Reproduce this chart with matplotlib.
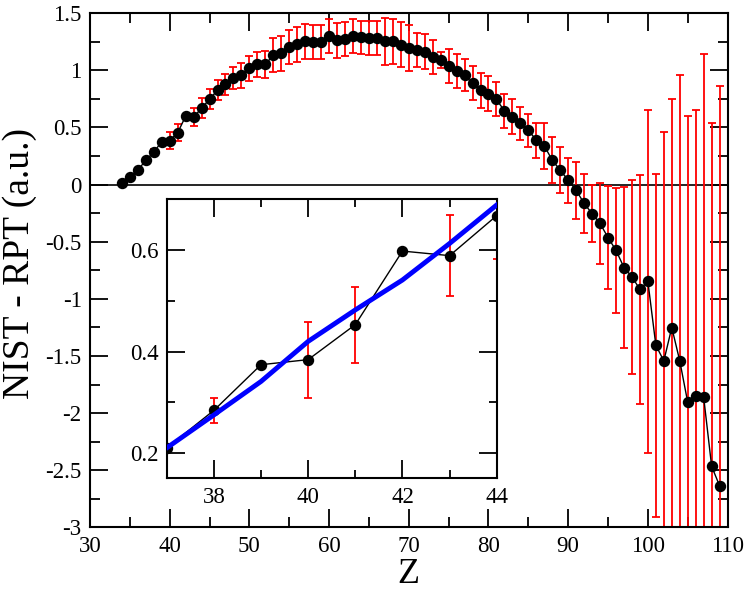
import matplotlib
matplotlib.use("Agg")
import matplotlib.pyplot as plt
from matplotlib.ticker import MultipleLocator

plt.rcParams['font.family'] = ['Liberation Serif', 'DejaVu Serif']
plt.rcParams['mathtext.fontset'] = 'stix'

# ---------------- data ----------------
Z = list(range(34, 110))
diff = [0.014, 0.066, 0.128, 0.21, 0.284, 0.374, 0.384, 0.453, 0.598, 0.589,
        0.668, 0.746, 0.825, 0.875, 0.933, 0.956, 1.015, 1.05, 1.052, 1.131,
        1.146, 1.199, 1.225, 1.251, 1.245, 1.248, 1.297, 1.262, 1.271, 1.30,
        1.286, 1.28, 1.283, 1.251, 1.251, 1.224, 1.197, 1.178, 1.16, 1.116,
        1.087, 1.035, 0.991, 0.956, 0.884, 0.825, 0.796, 0.744, 0.644, 0.592,
        0.534, 0.475, 0.388, 0.338, 0.213, 0.125, 0.038, -0.05, -0.166, -0.254,
        -0.341, -0.464, -0.576, -0.726, -0.808, -0.917, -0.848, -1.406, -1.543, -1.251,
        -1.543, -1.905, -1.846, -1.861, -2.465, -2.636]
err = [0.0, 0.0, 0.0, 0.0, 0.025, 0.0, 0.075, 0.075, 0.0, 0.08,
       0.085, 0.087, 0.09, 0.092, 0.099, 0.108, 0.109, 0.109, 0.117, 0.15,
       0.153, 0.149, 0.15, 0.153, 0.15, 0.149, 0.149, 0.152, 0.15, 0.146,
       0.143, 0.15, 0.15, 0.204, 0.195, 0.195, 0.202, 0.15, 0.154, 0.148,
       0.07, 0.149, 0.15, 0.141, 0.149, 0.152, 0.149, 0.149, 0.147, 0.153,
       0.146, 0.146, 0.152, 0.203, 0.204, 0.201, 0.198, 0.249, 0.255, 0.251,
       0.35, 0.45, 0.545, 0.70, 0.85, 1.0, 1.5, 1.5, 2.0, 2.0,
       2.5, 2.5, 2.5, 3.0, 3.0, 3.5]

# inset fit curve
Z_fit = [37, 38, 39, 40, 41, 42, 43, 44]
fit = [0.21, 0.275, 0.341, 0.42, 0.482, 0.541, 0.613, 0.689]

TICK_FS = 16.5

fig = plt.figure(figsize=(7.47, 5.92), dpi=100)
ax = fig.add_axes([0.1205, 0.109, 0.8535, 0.869])

ax.axhline(0, color='black', lw=1.2, zorder=1)
ax.errorbar(Z, diff, yerr=err, fmt='none', ecolor='red', elinewidth=1.3,
            capsize=3, capthick=1.3, zorder=2)
ax.plot(Z, diff, color='black', lw=1.0, marker='o', markersize=7.2,
        markerfacecolor='black', markeredgecolor='black', zorder=3)

ax.set_xlim(30, 110)
ax.set_ylim(-3, 1.5)
ax.xaxis.set_major_locator(MultipleLocator(10))
ax.xaxis.set_minor_locator(MultipleLocator(5))
ax.yaxis.set_minor_locator(MultipleLocator(0.25))
ax.set_yticks([-3, -2.5, -2, -1.5, -1, -0.5, 0, 0.5, 1, 1.5])
ax.set_yticklabels(['-3', '-2.5', '-2', '-1.5', '-1', '-0.5', '0', '0.5', '1', '1.5'])
ax.tick_params(which='both', direction='in', top=True, right=True,
               labelsize=TICK_FS, width=1.3, pad=6)
ax.tick_params(which='major', length=13)
ax.tick_params(which='minor', length=7)
for s in ax.spines.values():
    s.set_linewidth(1.5)
ax.set_xlabel('Z', fontsize=26)
ax.xaxis.set_label_coords(0.5, -0.108)
ax.xaxis.label.set_va('baseline')
ax.set_ylabel('NIST - RPT (a.u.)', fontsize=27)
ax.yaxis.set_label_coords(-0.11, 0.513)
ax.yaxis.label.set_va('center')

# ---------------- inset ----------------
ins = fig.add_axes([0.2232, 0.192, 0.4418, 0.4713])
ins.errorbar(Z, diff, yerr=err, fmt='none', ecolor='red', elinewidth=1.3,
             capsize=3, capthick=1.3, zorder=2)
ins.plot(Z, diff, color='black', lw=1.0, marker='o', markersize=7.2,
         markerfacecolor='black', markeredgecolor='black', zorder=3)
ins.plot(Z_fit, fit, color='#0000ff', lw=3.5, zorder=4)
ins.set_xlim(37, 44)
ins.set_ylim(0.15, 0.70)
ins.xaxis.set_minor_locator(MultipleLocator(1))
ins.set_xticks([38, 40, 42, 44])
ins.yaxis.set_minor_locator(MultipleLocator(0.1))
ins.set_yticks([0.2, 0.4, 0.6])
ins.set_yticklabels(['0.2', '0.4', '0.6'])
ins.tick_params(which='both', direction='in', top=True, right=True,
                labelsize=TICK_FS, width=1.3, pad=6)
ins.tick_params(which='major', length=13)
ins.tick_params(which='minor', length=6)
for s in ins.spines.values():
    s.set_linewidth(1.5)

fig.savefig('out.png', dpi=100)
